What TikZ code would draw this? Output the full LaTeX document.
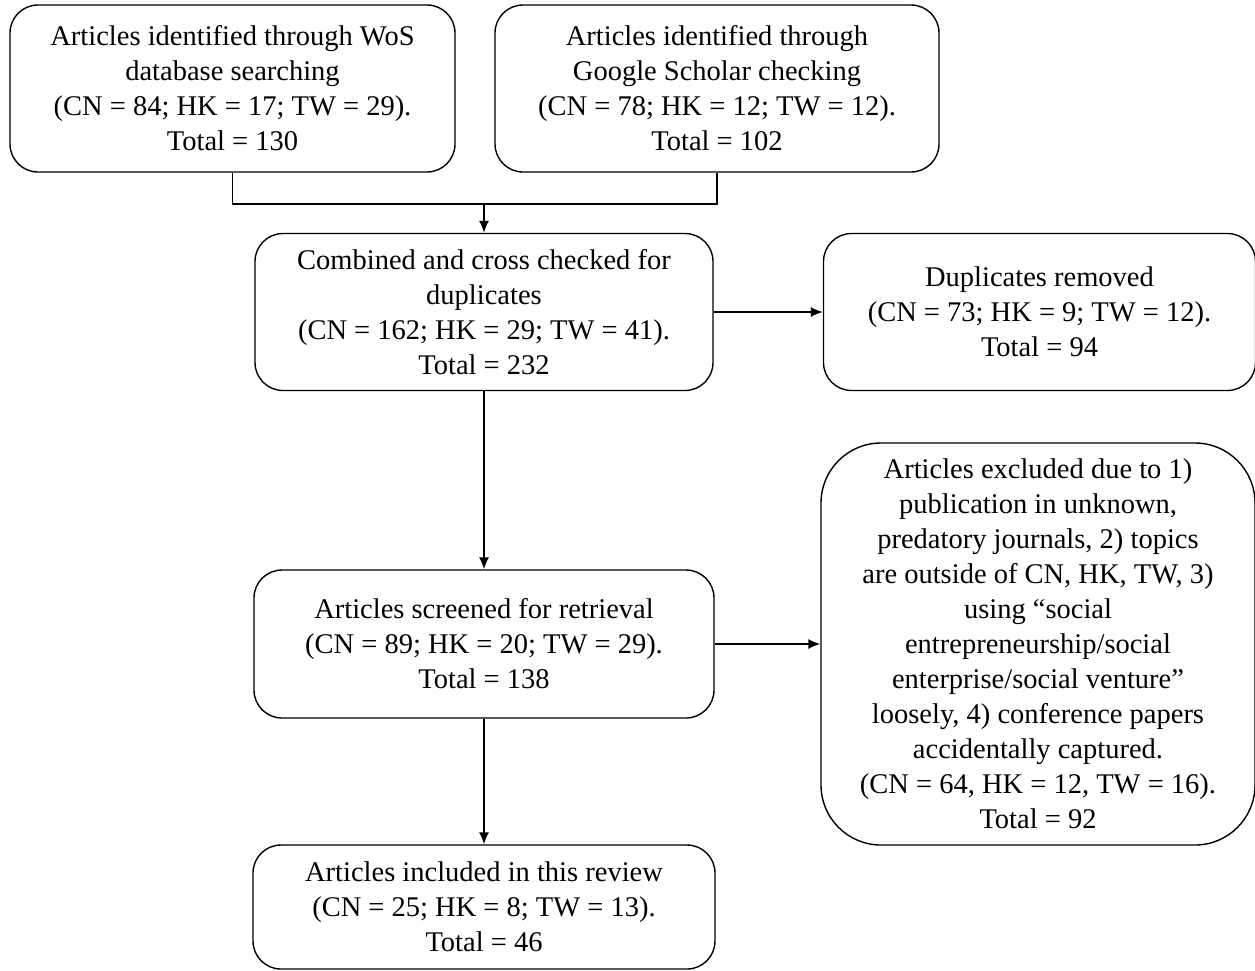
\documentclass[tikz,border=0pt]{standalone}
\usepackage{fontspec}
\setmainfont{Liberation Serif}
\usetikzlibrary{arrows.meta}
\begin{document}
\begin{tikzpicture}[x=1pt,y=-1pt,
  box/.style={draw=black, line width=1.4pt, rounded corners=28pt, align=center, inner sep=0pt,
    font=\fontsize{28.5}{35}\selectfont},
  conn/.style={draw=black, line width=1.4pt},
  arr/.style={conn, -{Latex[length=12pt,width=10pt]}}]
\path[use as bounding box, fill=white] (0,0) rectangle (1255,970);
\node[box, minimum width=445pt, minimum height=167pt] (b1) at (232.5,88.5)
  {Articles identified through WoS\\database searching\\(CN = 84; HK = 17; TW = 29).\\Total = 130};
\node[box, minimum width=444pt, minimum height=167pt] (b2) at (717,88.5)
  {Articles identified through\\Google Scholar checking\\(CN = 78; HK = 12; TW = 12).\\Total = 102};
\node[box, minimum width=458pt, minimum height=157pt] (b3) at (484,312)
  {Combined and cross checked for\\duplicates\\(CN = 162; HK = 29; TW = 41).\\Total = 232};
\node[box, minimum width=432pt, minimum height=157pt] (b4) at (1039.5,312)
  {Duplicates removed\\(CN = 73; HK = 9; TW = 12).\\Total = 94};
\node[box, minimum width=460pt, minimum height=148pt] (b5) at (484,644)
  {Articles screened for retrieval\\(CN = 89; HK = 20; TW = 29).\\Total = 138};
\node[box, rounded corners=60pt, minimum width=434pt, minimum height=402pt] (b6) at (1038,644)
  {Articles excluded due to 1)\\publication in unknown,\\predatory journals, 2) topics\\are outside of CN, HK, TW, 3)\\using “social\\entrepreneurship/social\\enterprise/social venture”\\loosely, 4) conference papers\\accidentally captured.\\(CN = 64, HK = 12, TW = 16).\\Total = 92};
\node[box, minimum width=462pt, minimum height=124pt] (b7) at (484,907)
  {Articles included in this review\\(CN = 25; HK = 8; TW = 13).\\Total = 46};
\coordinate (j) at (484,204);
\draw[conn] (b1.south) |- (j) -| (b2.south);
\draw[arr] (j) -- (b3.north);
\draw[arr] (b3.east) -- (b4.west);
\draw[arr] (b3.south) -- (b5.north);
\draw[arr] (b5.east) -- (b6.west);
\draw[arr] (b5.south) -- (b7.north);
\end{tikzpicture}
\end{document}
